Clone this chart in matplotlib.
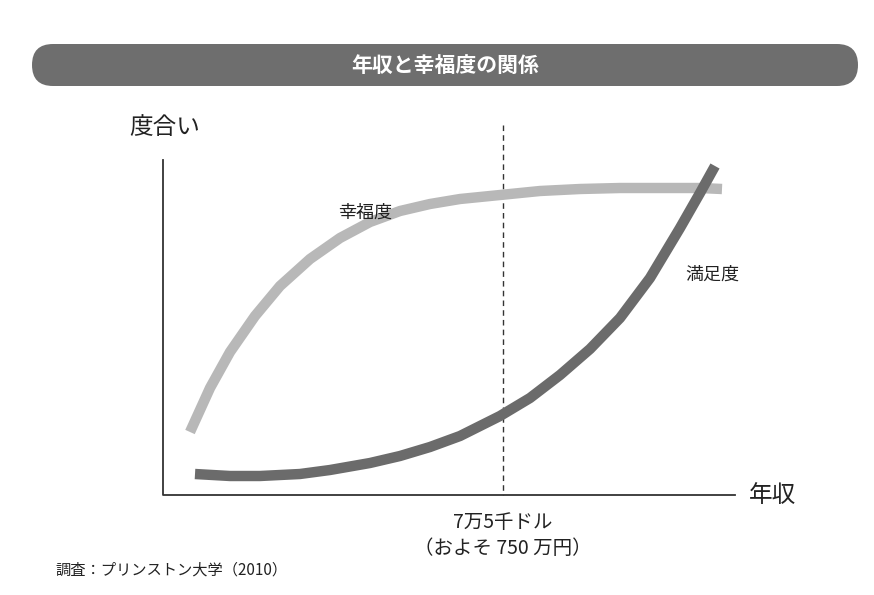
import matplotlib
matplotlib.use("Agg")
import matplotlib.pyplot as plt
from matplotlib.patches import FancyBboxPatch

plt.rcParams['font.family'] = ['Noto Sans CJK JP', 'DejaVu Sans']

# curves (pixel-like units, y downwards)
happy_x = [190, 210, 230, 255, 280, 310, 340, 370, 400, 430, 460, 500, 540, 580, 620, 660, 700, 722]
happy_y = [432, 388, 352, 316, 286, 259, 238, 222, 211, 204, 199, 195, 191, 189, 188, 188, 188, 189]
sat_x = [195, 230, 260, 300, 330, 370, 400, 430, 460, 500, 530, 560, 590, 620, 650, 680, 700, 715]
sat_y = [474, 476, 476, 474, 470, 463, 456, 447, 436, 416, 398, 375, 349, 318, 278, 228, 193, 166]
threshold_x = 503
title = "年収と幸福度の関係"
source = "調査：プリンストン大学（2010）"

fig = plt.figure(figsize=(8.74, 5.95), dpi=100)
ax = fig.add_axes([0, 0, 1, 1])
ax.set_xlim(0, 874)
ax.set_ylim(595, 0)
ax.axis('off')

ax.add_patch(FancyBboxPatch((32, 44), 826, 42, boxstyle="round,pad=0,rounding_size=21",
                            fc='#6e6e6e', ec='none', mutation_aspect=1))
ax.text(445, 65, title, color='white', fontsize=15, fontweight='bold', ha='center', va='center')

ax.plot([163, 163, 735], [160, 495, 495], color='#333333', lw=1.3)
ax.text(165, 128, "度合い", fontsize=17, ha='center', va='center', color='#222222')
ax.text(772, 495, "年収", fontsize=17, ha='center', va='center', color='#222222')

ax.plot([threshold_x, threshold_x], [125, 495], color='#333333', lw=1, ls=(0, (4, 3)))

ax.plot(happy_x, happy_y, color='#b8b8b8', lw=7.5, solid_capstyle='butt', solid_joinstyle='round')
ax.plot(sat_x, sat_y, color='#6b6b6b', lw=7.5, solid_capstyle='butt', solid_joinstyle='round')

ax.text(365, 213, "幸福度", fontsize=13, ha='center', va='center', color='#222222')
ax.text(712, 275, "満足度", fontsize=13, ha='center', va='center', color='#222222')
ax.text(503, 522, "7万5千ドル", fontsize=14, ha='center', va='center', color='#222222')
ax.text(503, 549, "（およそ 750 万円）", fontsize=14, ha='center', va='center', color='#222222')
ax.text(55, 570, source, fontsize=11, ha='left', va='center', color='#222222')

fig.savefig("out.png", dpi=100, facecolor='white')
